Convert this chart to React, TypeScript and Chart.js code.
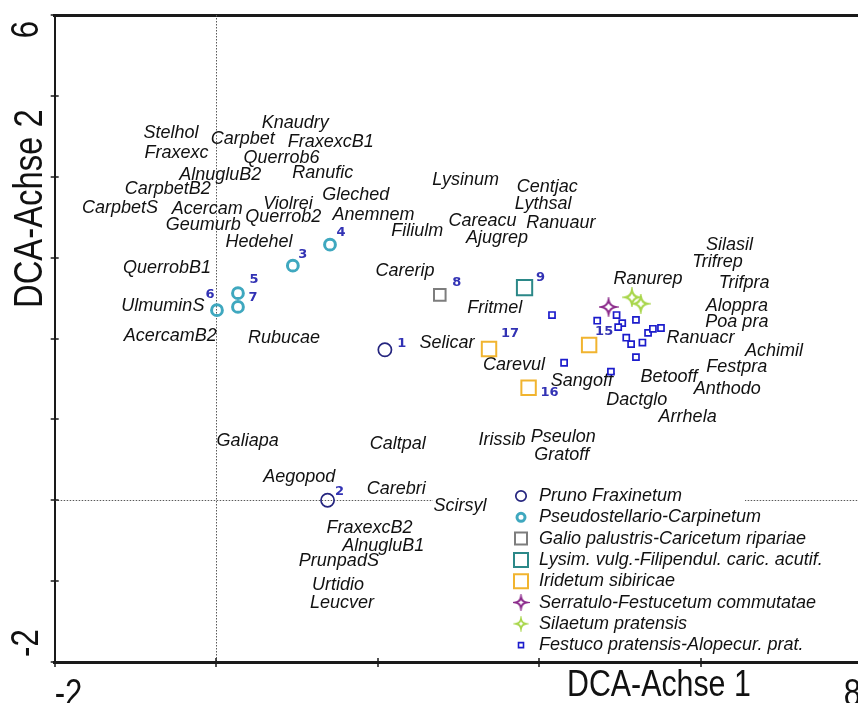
import React, { useEffect, useRef } from 'react';
import { Chart, registerables } from 'chart.js';

Chart.register(...registerables);

// ---------- data ----------
const legendLabels = [
  'Pruno Fraxinetum',
  'Pseudostellario-Carpinetum',
  'Galio palustris-Caricetum ripariae',
  'Lysim. vulg.-Filipendul. caric. acutif.',
  'Iridetum sibiricae',
  'Serratulo-Festucetum commutatae',
  'Silaetum pratensis',
  'Festuco pratensis-Alopecur. prat.',
];

const prunoPts = [[2.09, 1.86], [1.38, 0.0]];
const prunoIds = ['1', '2'];
const pseudoPts = [[0.95, 2.9], [1.41, 3.16], [0.27, 2.56], [0.01, 2.35], [0.27, 2.39]];
const pseudoIds = ['3', '4', '5', '6', '7'];
const galioPts = [[2.77, 2.54]];
const galioIds = ['8'];
const lysimPts = [[3.82, 2.63]];
const lysimIds = ['9'];
const iridPts = [[4.62, 1.92], [3.87, 1.39], [3.38, 1.87]];
const iridIds = ['15', '16', '17'];
const serratPts = [[4.86, 2.39]];
const silaetPts = [[5.15, 2.51], [5.26, 2.43]];
const festucoPts = [
  [4.16, 2.29], [4.31, 1.7], [4.89, 1.59], [4.72, 2.22], [4.96, 2.29],
  [5.03, 2.19], [4.98, 2.14], [5.2, 2.23], [5.08, 2.01], [5.14, 1.93],
  [5.28, 1.95], [5.2, 1.77], [5.35, 2.07], [5.41, 2.12], [5.51, 2.13],
];

const speciesNames = [
  'Knaudry', 'Stelhol', 'Carpbet', 'FraxexcB1', 'Fraxexc', 'Querrob6', 'AlnugluB2', 'Ranufic',
  'CarpbetB2', 'Gleched', 'CarpbetS', 'Acercam', 'Violrei', 'Geumurb', 'Querrob2', 'Anemnem',
  'Hedehel', 'QuerrobB1', 'UlmuminS', 'AcercamB2', 'Rubucae', 'Lysinum', 'Centjac', 'Lythsal',
  'Filiulm', 'Careacu', 'Ranuaur', 'Ajugrep', 'Carerip', 'Fritmel', 'Ranurep', 'Selicar',
  'Carevul', 'Sangoff', 'Dactglo', 'Betooff', 'Silasil', 'Trifrep', 'Trifpra', 'Aloppra',
  'Poa pra', 'Ranuacr', 'Achimil', 'Festpra', 'Anthodo', 'Arrhela', 'Galiapa', 'Caltpal',
  'Irissib', 'Pseulon', 'Gratoff', 'Aegopod', 'Carebri', 'Scirsyl', 'FraxexcB2', 'AlnugluB1',
  'PrunpadS', 'Urtidio', 'Leucver',
];
const speciesX = [
  0.98, -0.56, 0.33, 1.42, -0.49, 0.81, 0.05, 1.32,
  -0.6, 1.73, -1.19, -0.11, 0.89, -0.16, 0.83, 1.95,
  0.53, -0.61, -0.66, -0.57, 0.84, 3.09, 4.1, 4.05,
  2.49, 3.3, 4.27, 3.48, 2.34, 3.45, 5.35, 2.86,
  3.69, 4.53, 5.21, 5.61, 6.36, 6.21, 6.54, 6.45,
  6.45, 6.0, 6.91, 6.45, 6.33, 5.84, 0.39, 2.25,
  3.54, 4.3, 4.28, 1.03, 2.23, 3.02, 1.9, 2.07,
  1.52, 1.51, 1.56,
];
const speciesY = [
  4.67, 4.54, 4.47, 4.43, 4.29, 4.23, 4.02, 4.05,
  3.85, 3.78, 3.61, 3.6, 3.66, 3.4, 3.5, 3.53,
  3.19, 2.87, 2.4, 2.03, 2.01, 3.96, 3.87, 3.66,
  3.33, 3.45, 3.43, 3.24, 2.84, 2.38, 2.74, 1.95,
  1.67, 1.48, 1.24, 1.53, 3.16, 2.95, 2.69, 2.4,
  2.21, 2.01, 1.85, 1.65, 1.38, 1.03, 0.73, 0.7,
  0.75, 0.78, 0.56, 0.29, 0.14, -0.07, -0.34, -0.56,
  -0.75, -1.05, -1.27,
];

const xTickLabelValues = [-2, 8];
const yTickLabelValues = [6, -2];
const xTitle = 'DCA-Achse 1';
const yTitle = 'DCA-Achse 2';

// ---------- styling helpers ----------
const LABEL_FONT = 'italic 18px "Liberation Sans", Arial, sans-serif';
const BIG_FONT = '"Liberation Sans", Arial, sans-serif';
const NUM_COLOR = '#3232b4';
const numOffsets: Record<string, [number, number]> = {
  '1': [17, -6], '2': [12, -9], '3': [10, -11], '4': [11, -12], '5': [16, -14],
  '6': [-7, -16], '7': [15, -9], '8': [17, -12], '9': [16, -10],
  '15': [15, -13], '16': [21, 5], '17': [21, -15],
};

function makeStar(color: string, R: number, lw: number): HTMLCanvasElement {
  const s = Math.ceil(2 * R + lw + 4);
  const c = document.createElement('canvas');
  c.width = s;
  c.height = s;
  const g = c.getContext('2d')!;
  const cx = s / 2, cy = s / 2;
  g.beginPath();
  for (let k = 0; k <= 4; k++) {
    const a = -Math.PI / 2 + (k * Math.PI) / 2;
    const tx = cx + R * Math.cos(a), ty = cy + R * Math.sin(a);
    if (k === 0) g.moveTo(tx, ty);
    else {
      const ma = a - Math.PI / 4;
      g.quadraticCurveTo(cx + 0.22 * R * Math.cos(ma), cy + 0.22 * R * Math.sin(ma), tx, ty);
    }
  }
  g.closePath();
  g.fillStyle = '#fff';
  g.fill();
  g.strokeStyle = color;
  g.lineWidth = lw;
  g.lineJoin = 'miter';
  g.stroke();
  return c;
}

const toXY = (pts: number[][]) => pts.map(([x, y]) => ({ x, y }));

export default function App() {
  const ref = useRef<HTMLCanvasElement | null>(null);

  useEffect(() => {
    const canvas = ref.current;
    if (!canvas) return;

    const C = {
      pruno: '#25257f',
      pseudo: '#3fa8bf',
      galio: '#7d7d7d',
      lysim: '#2b8888',
      irid: '#f1b42f',
      serrat: '#8c2c8c',
      silaet: '#a8d64a',
      festuco: '#1c1ccc',
    };
    const serratStar = makeStar(C.serrat, 7, 2);
    const silaetStar = makeStar(C.silaet, 6.8, 2.2);
    const serratStarL = makeStar(C.serrat, 5.5, 2);
    const silaetStarL = makeStar(C.silaet, 4.8, 1.8);

    const groups = [
      { pts: prunoPts, ids: prunoIds },
      { pts: pseudoPts, ids: pseudoIds },
      { pts: galioPts, ids: galioIds },
      { pts: lysimPts, ids: lysimIds },
      { pts: iridPts, ids: iridIds },
    ];

    const legendMarkers = [
      { kind: 'circle', color: C.pruno, size: 5.2, lw: 1.7 },
      { kind: 'circle', color: C.pseudo, size: 4, lw: 3 },
      { kind: 'rect', color: C.galio, size: 12, lw: 2 },
      { kind: 'rect', color: C.lysim, size: 14, lw: 2 },
      { kind: 'rect', color: C.irid, size: 14, lw: 2 },
      { kind: 'img', img: serratStarL },
      { kind: 'img', img: silaetStarL },
      { kind: 'rect', color: C.festuco, size: 5, lw: 1.6 },
    ];

    const drawBig = (ctx: CanvasRenderingContext2D, text: string, x: number, y: number, size: number, align: CanvasTextAlign, rotate: boolean) => {
      ctx.save();
      ctx.translate(x, y);
      if (rotate) ctx.rotate(-Math.PI / 2);
      ctx.scale(0.82, 1);
      ctx.font = `${size}px ${BIG_FONT}`;
      ctx.textAlign = align;
      ctx.textBaseline = 'alphabetic';
      ctx.fillStyle = '#111';
      ctx.fillText(text, 0, 0);
      ctx.restore();
    };

    const decor = {
      id: 'decor',
      beforeDatasetsDraw(chart: any) {
        const { ctx, chartArea: a } = chart;
        const xs = chart.scales.x, ys = chart.scales.y;
        ctx.save();
        // zero lines
        ctx.strokeStyle = '#5a5a5a';
        ctx.lineWidth = 1;
        ctx.setLineDash([1.5, 1.5]);
        const x0 = Math.round(xs.getPixelForValue(0)) + 0.5;
        const y0 = Math.round(ys.getPixelForValue(0)) + 0.5;
        ctx.beginPath();
        ctx.moveTo(x0, a.top);
        ctx.lineTo(x0, a.bottom);
        ctx.moveTo(a.left, y0);
        ctx.lineTo(a.right, y0);
        ctx.stroke();
        ctx.setLineDash([]);
        // legend backdrop
        ctx.fillStyle = '#fff';
        ctx.fillRect(433, 486, 312, 170);
        // species labels
        ctx.fillStyle = '#111';
        ctx.font = LABEL_FONT;
        ctx.textAlign = 'center';
        ctx.textBaseline = 'middle';
        speciesNames.forEach((n, i) => {
          ctx.fillText(n, xs.getPixelForValue(speciesX[i]), ys.getPixelForValue(speciesY[i]));
        });
        ctx.restore();
      },
      afterDraw(chart: any) {
        const { ctx, chartArea: a } = chart;
        const xs = chart.scales.x, ys = chart.scales.y;
        ctx.save();
        // tick marks crossing the axes
        ctx.strokeStyle = '#1a1a1a';
        ctx.lineWidth = 1.5;
        ctx.beginPath();
        xs.ticks.forEach((t: any) => {
          const px = Math.round(xs.getPixelForValue(t.value));
          ctx.moveTo(px, a.bottom - 4);
          ctx.lineTo(px, a.bottom + 5);
        });
        ys.ticks.forEach((t: any) => {
          const py = Math.round(ys.getPixelForValue(t.value));
          ctx.moveTo(a.left - 4, py);
          ctx.lineTo(a.left + 4, py);
        });
        ctx.stroke();

        // tick labels
        xTickLabelValues.forEach((v, i) => {
          const px = xs.getPixelForValue(v);
          drawBig(ctx, String(v), i === 0 ? px : px - 1, 706, 38, i === 0 ? 'left' : 'right', false);
        });
        yTickLabelValues.forEach((v, i) => {
          const py = ys.getPixelForValue(v);
          drawBig(ctx, String(v), 38, i === 0 ? py + 6 : py - 5, 38, i === 0 ? 'right' : 'left', true);
        });
        // axis titles
        drawBig(ctx, xTitle, 567, 696, 37, 'left', false);
        drawBig(ctx, yTitle, 42, 308, 40, 'left', true);

        // point numbers
        ctx.fillStyle = NUM_COLOR;
        ctx.font = 'bold 13px "DejaVu Sans", sans-serif';
        ctx.textAlign = 'center';
        ctx.textBaseline = 'middle';
        groups.forEach((g) => {
          g.pts.forEach(([vx, vy], j) => {
            const id = g.ids[j];
            const off = numOffsets[id] || [12, -10];
            ctx.fillText(id, xs.getPixelForValue(vx) + off[0], ys.getPixelForValue(vy) + off[1]);
          });
        });

        // legend
        const lx = 521, tx = 539;
        legendLabels.forEach((lab, i) => {
          const ly = 496 + i * 21.3;
          const m: any = legendMarkers[i];
          if (m.kind === 'img') {
            ctx.drawImage(m.img, lx - m.img.width / 2, ly - m.img.height / 2);
          } else {
            ctx.strokeStyle = m.color;
            ctx.lineWidth = m.lw;
            ctx.beginPath();
            if (m.kind === 'circle') ctx.arc(lx, ly, m.size, 0, Math.PI * 2);
            else ctx.rect(lx - m.size / 2, ly - m.size / 2, m.size, m.size);
            ctx.stroke();
          }
          ctx.fillStyle = '#111';
          ctx.font = LABEL_FONT;
          ctx.textAlign = 'left';
          ctx.textBaseline = 'middle';
          ctx.fillText(lab, tx, ly);
        });
        ctx.restore();
      },
    };

    const transparent = 'rgba(0,0,0,0)';
    const chart = new Chart(canvas, {
      type: 'scatter',
      data: {
        datasets: [
          { label: legendLabels[0], data: toXY(prunoPts), pointStyle: 'circle', pointRadius: 6.6, borderColor: C.pruno, backgroundColor: transparent, borderWidth: 1.7 },
          { label: legendLabels[1], data: toXY(pseudoPts), pointStyle: 'circle', pointRadius: 5.4, borderColor: C.pseudo, backgroundColor: transparent, borderWidth: 3 },
          { label: legendLabels[2], data: toXY(galioPts), pointStyle: 'rect', pointRadius: 8.2, borderColor: C.galio, backgroundColor: transparent, borderWidth: 2 },
          { label: legendLabels[3], data: toXY(lysimPts), pointStyle: 'rect', pointRadius: 10.8, borderColor: C.lysim, backgroundColor: transparent, borderWidth: 2 },
          { label: legendLabels[4], data: toXY(iridPts), pointStyle: 'rect', pointRadius: 10.2, borderColor: C.irid, backgroundColor: transparent, borderWidth: 2 },
          { label: legendLabels[5], data: toXY(serratPts), pointStyle: serratStar as any, pointRadius: 7 },
          { label: legendLabels[6], data: toXY(silaetPts), pointStyle: silaetStar as any, pointRadius: 7 },
          { label: legendLabels[7], data: toXY(festucoPts), pointStyle: 'rect', pointRadius: 4.3, borderColor: C.festuco, backgroundColor: '#fff', borderWidth: 1.7 },
        ] as any,
      },
      options: {
        responsive: false,
        animation: false,
        events: [],
        layout: { padding: { left: 54.7, top: 15, right: 880 - 862, bottom: 703 - 662 } },
        plugins: { legend: { display: false }, tooltip: { enabled: false } },
        scales: {
          x: {
            type: 'linear', min: -2, max: 8,
            ticks: { display: false, stepSize: 2 },
            grid: { display: true, drawOnChartArea: false, drawTicks: false },
            border: { display: true, width: 3, color: '#1a1a1a' },
          },
          x2: {
            type: 'linear', position: 'top', min: -2, max: 8,
            ticks: { display: false },
            grid: { display: true, drawOnChartArea: false, drawTicks: false },
            border: { display: true, width: 3, color: '#1a1a1a' },
          },
          y: {
            type: 'linear', min: -2, max: 6,
            ticks: { display: false, stepSize: 1 },
            grid: { display: true, drawOnChartArea: false, drawTicks: false },
            border: { display: true, width: 2, color: '#1a1a1a' },
          },
        },
      } as any,
      plugins: [decor],
    });
    return () => chart.destroy();
  }, []);

  return (
    <div style={{ position: 'fixed', left: 0, top: 0, width: 858, height: 703, overflow: 'hidden', background: '#fff' }}>
      <canvas ref={ref} width={880} height={703} style={{ width: 880, height: 703, display: 'block' }} />
    </div>
  );
}
